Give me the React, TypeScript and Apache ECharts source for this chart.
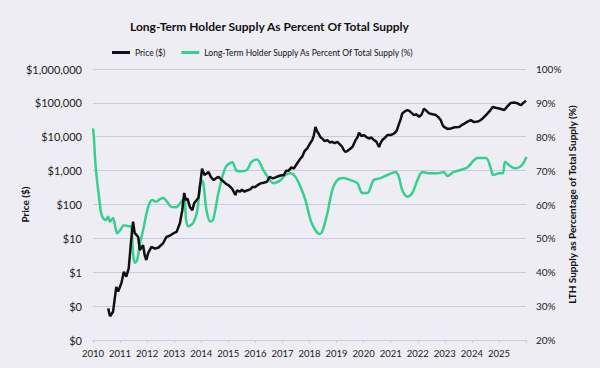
import React, { useEffect, useRef } from "react";
import * as echarts from "echarts";

const titleText = "Long-Term Holder Supply As Percent Of Total Supply";
const priceName = "Price ($)";
const lthName = "Long-Term Holder Supply As Percent Of Total Supply (%)";
const leftAxisName = "Price ($)";
const rightAxisName = "LTH Supply as Percentage of Total Supply (%)";

const yearTicks = [2010, 2011, 2012, 2013, 2014, 2015, 2016, 2017, 2018, 2019, 2020, 2021, 2022, 2023, 2024, 2025];

const priceYears = [
  2010.56, 2010.63, 2010.74, 2010.86, 2010.93, 2011.05, 2011.14, 2011.23, 2011.32, 2011.40,
  2011.48, 2011.54, 2011.67, 2011.73, 2011.85, 2011.91, 2011.97, 2012.04, 2012.16, 2012.29,
  2012.41, 2012.59, 2012.71, 2012.84, 2012.96, 2013.09, 2013.21, 2013.30, 2013.37, 2013.42,
  2013.49, 2013.58, 2013.67, 2013.74, 2013.83, 2013.90, 2014.03, 2014.12, 2014.2, 2014.27,
  2014.36, 2014.46, 2014.55, 2014.64, 2014.74, 2014.83, 2014.93, 2015.01, 2015.14, 2015.26,
  2015.32, 2015.42, 2015.51, 2015.6, 2015.69, 2015.81, 2015.9, 2016.0, 2016.1, 2016.19,
  2016.3, 2016.43, 2016.52, 2016.64, 2016.72, 2016.80, 2016.93, 2017.05, 2017.14, 2017.23,
  2017.33, 2017.42, 2017.54, 2017.67, 2017.73, 2017.82, 2017.91, 2018.0, 2018.10, 2018.16,
  2018.22, 2018.28, 2018.34, 2018.41, 2018.47, 2018.56, 2018.66, 2018.75, 2018.84, 2018.93,
  2019.03, 2019.12, 2019.21, 2019.27, 2019.33, 2019.42, 2019.52, 2019.6, 2019.70, 2019.77,
  2019.83, 2019.92, 2020.01, 2020.1, 2020.20, 2020.29, 2020.38, 2020.47, 2020.57, 2020.62,
  2020.69, 2020.78, 2020.88, 2021.0, 2021.12, 2021.22, 2021.31, 2021.37, 2021.43, 2021.52,
  2021.62, 2021.7, 2021.78, 2021.86, 2021.95, 2022.05, 2022.14, 2022.23, 2022.32, 2022.42,
  2022.55, 2022.67, 2022.76, 2022.85, 2022.92, 2022.97, 2023.1, 2023.22, 2023.36, 2023.53,
  2023.62, 2023.72, 2023.84, 2023.96, 2024.08, 2024.21, 2024.3, 2024.40, 2024.5, 2024.58,
  2024.68, 2024.77, 2024.88, 2025.01, 2025.1, 2025.20, 2025.32, 2025.44, 2025.56, 2025.69,
  2025.81, 2025.9, 2026.0,
];
const priceValues = [
  0.086, 0.05, 0.068, 0.37, 0.27, 0.48, 1.03, 0.74, 1.3, 7.2,
  31, 14.5, 11, 4.5, 6.3, 3.2, 2.3, 3.7, 5.6, 5.0,
  5.3, 7.2, 11, 12, 14, 15.5, 28, 68, 220, 135,
  150, 85, 68, 110, 135, 160, 1150, 740, 820, 910,
  640, 525, 600, 660, 540, 470, 400, 370, 295, 190,
  260, 240, 270, 240, 260, 280, 330, 330, 380, 420,
  440, 470, 650, 590, 620, 660, 720, 740, 1000, 1000,
  1250, 1150, 1620, 2300, 2570, 3800, 4470, 6000, 7940, 11000,
  19500, 14500, 12300, 9500, 8900, 7400, 8000, 6800, 7080, 6500,
  7080, 6000, 5000, 4000, 3550, 3900, 4470, 5200, 7940, 9500,
  13200, 10500, 11200, 9800, 8900, 9500, 8000, 7200, 5000, 6400,
  8000, 9200, 11200, 11200, 12300, 15000, 24500, 33000, 49000, 56000,
  61600, 57000, 50000, 43600, 46000, 38900, 45000, 67600, 58000, 49000,
  46000, 43600, 38000, 30900, 22000, 19500, 17000, 17400, 19000, 19500,
  22000, 24500, 28000, 30900, 27000, 28000, 30000, 34700, 42000, 49000,
  60000, 75900, 72000, 68000, 65000, 61600, 80000, 100000, 102000, 97000,
  85000, 100000, 115000,
];

const lthYears = [
  2010.0, 2010.03, 2010.1, 2010.22, 2010.3, 2010.37, 2010.48, 2010.56, 2010.63, 2010.74,
  2010.89, 2011.0, 2011.15, 2011.3, 2011.4, 2011.48, 2011.54, 2011.63, 2011.74, 2011.85,
  2012.04, 2012.19, 2012.33, 2012.48, 2012.6, 2012.74, 2012.89, 2013.07, 2013.26, 2013.37,
  2013.44, 2013.52, 2013.7, 2013.85, 2013.96, 2014.04, 2014.2, 2014.33, 2014.44, 2014.65,
  2014.9, 2015.15, 2015.3, 2015.5, 2015.7, 2015.85, 2016.06, 2016.3, 2016.67, 2016.93,
  2017.11, 2017.3, 2017.48, 2017.67, 2017.85, 2018.04, 2018.22, 2018.37, 2018.47, 2018.66,
  2018.84, 2019.03, 2019.26, 2019.52, 2019.77, 2019.95, 2020.14, 2020.37, 2020.63, 2020.88,
  2021.19, 2021.3, 2021.43, 2021.62, 2021.8, 2021.99, 2022.17, 2022.41, 2022.73, 2022.96,
  2023.1, 2023.33, 2023.59, 2023.84, 2024.21, 2024.52, 2024.7, 2024.79, 2025.01, 2025.14,
  2025.23, 2025.38, 2025.56, 2025.75, 2025.9, 2026.02,
];
const lthValues = [
  82.5, 80, 71, 62.3, 57.5, 56, 55.4, 56.4, 54.9, 56,
  51.5, 52.4, 53.9, 53.6, 53.6, 45.6, 42.8, 43.6, 48.6, 52.4,
  59.3, 61.3, 60.8, 61.6, 61.9, 60.8, 59.3, 59.2, 60.8, 61.9,
  55.4, 53.6, 54.5, 58, 66, 67, 58, 55, 55.5, 64,
  71, 72.5, 70, 69.8, 70.3, 72.5, 73.3, 70.1, 66.3, 67.2,
  68.7, 69.2, 68.2, 65.2, 61.3, 55.4, 52.4, 51.3, 52, 57.4,
  64.2, 67.2, 67.8, 67.2, 66.3, 63.4, 63.4, 67.2, 67.8, 68.7,
  69.6, 68.2, 64.2, 62.3, 63.4, 67.2, 69.6, 69.2, 69.2, 69.6,
  68.4, 69.6, 70.2, 71, 73.7, 73.7, 70.7, 68.7, 69.2, 69.2,
  72.6, 71.6, 70.7, 71, 72.2, 74,
];

const FONT = "Lato";

export default function App() {
  const ref = useRef<HTMLDivElement>(null);
  useEffect(() => {
    if (!ref.current) return;
    const chart = echarts.init(ref.current, null, { renderer: "svg" });
    const priceData = priceYears.map((y, i) => [y, priceValues[i]]);
    const lthData = lthYears.map((y, i) => [y, lthValues[i]]);
    const gridColor = "#CACAE4";
    chart.setOption({
      animation: false,
      backgroundColor: "#EDEDF3",
      textStyle: { fontFamily: FONT },
      title: {
        text: titleText,
        left: 125,
        top: 15,
        textStyle: { fontFamily: FONT, fontSize: 12, fontWeight: "bold", color: "#111" },
      },
      legend: {
        left: 107,
        top: 43,
        itemWidth: 18,
        itemHeight: 3,
        itemGap: 16,
        icon: "rect",
        textStyle: { fontFamily: FONT, fontSize: 8.5, color: "#111" },
        data: [priceName, lthName],
      },
      grid: { left: 93, right: 74, top: 69, bottom: 28, containLabel: false },
      xAxis: {
        type: "value",
        min: 2010,
        max: 2026,
        interval: 1,
        axisLine: { show: true, lineStyle: { color: gridColor } },
        axisTick: { show: true, length: 3, lineStyle: { color: gridColor } },
        splitLine: { show: false },
        axisLabel: {
          fontFamily: FONT,
          fontSize: 9.5,
          color: "#222",
          margin: 8,
          formatter: (v: number) => (yearTicks.includes(v) ? String(v) : ""),
        },
      },
      yAxis: [
        {
          type: "log",
          logBase: 10,
          min: 0.01,
          max: 1000000,
          name: leftAxisName,
          nameLocation: "middle",
          nameRotate: 90,
          nameGap: 63,
          nameMoveOverlap: false,
          nameTextStyle: { fontFamily: FONT, fontSize: 10, fontWeight: "bold", color: "#111" },
          axisLine: { show: false },
          axisTick: { show: false },
          splitLine: { show: true, lineStyle: { color: gridColor, width: 1 } },
          axisLabel: {
            fontFamily: FONT,
            fontSize: 11,
            color: "#222",
            margin: 11,
            formatter: (v: number) => (v < 1 ? "$0" : "$" + Math.round(v).toLocaleString("en-US")),
          },
        },
        {
          type: "value",
          min: 20,
          max: 100,
          interval: 10,
          position: "right",
          name: rightAxisName,
          nameLocation: "middle",
          nameRotate: 90,
          nameGap: 41,
          nameMoveOverlap: false,
          nameTextStyle: { fontFamily: FONT, fontSize: 10, fontWeight: "bold", color: "#111" },
          axisLine: { show: false },
          axisTick: { show: false },
          splitLine: { show: false },
          axisLabel: {
            fontFamily: FONT,
            fontSize: 10,
            color: "#222",
            margin: 10,
            formatter: (v: number) => v + "%",
          },
        },
      ],
      series: [
        {
          name: priceName,
          type: "line",
          yAxisIndex: 0,
          data: priceData,
          symbol: "none",
          lineStyle: { color: "#111111", width: 2.5 },
          itemStyle: { color: "#111111" },
          z: 3,
        },
        {
          name: lthName,
          type: "line",
          yAxisIndex: 1,
          data: lthData,
          symbol: "none",
          smooth: 0.3,
          lineStyle: { color: "#35D08F", width: 2.5 },
          itemStyle: { color: "#35D08F" },
          z: 2,
        },
      ],
    });
    return () => chart.dispose();
  }, []);
  return (
    <div
      ref={ref}
      style={{ position: "absolute", left: 0, top: 0, width: 600, height: 368 }}
    />
  );
}
